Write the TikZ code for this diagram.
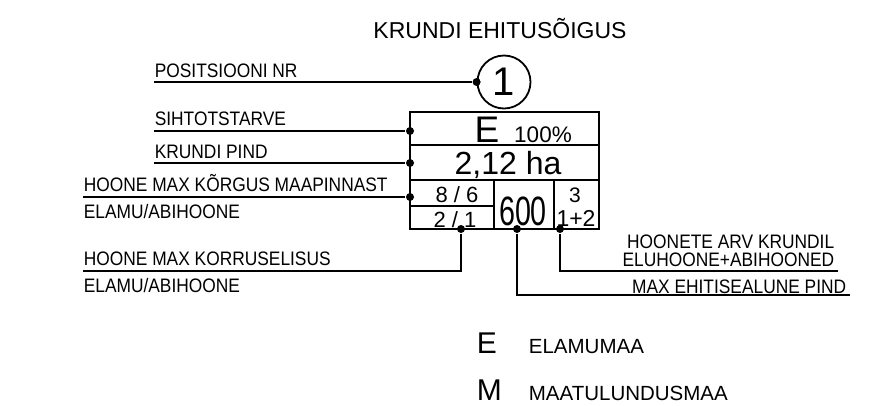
\documentclass[tikz,border=0pt]{standalone}
\usepackage{fontspec}
\setmainfont{Liberation Sans}
\tikzset{
  dot/.style={circle,fill,inner sep=0pt,minimum size=8pt},
  lbl/.style={inner sep=0pt,text height=14pt,text depth=0pt,xscale=0.89,font=\fontsize{19.5}{20}\selectfont},
  cell/.style={inner sep=0pt,anchor=base},
}
\begin{document}
\begin{tikzpicture}[x=1pt,y=-1pt,line width=1.8pt]
			\useasboundingbox (0,0) rectangle (890,405);
			%title
			\node[cell,font=\fontsize{23}{23}\selectfont] (title) at (500,38){KRUNDI EHITUSÕIGUS};
			
			%position circle
			\node[draw,circle,minimum size=53pt,inner sep=0pt,font=\fontsize{40}{40}\selectfont] (pos) at (504,82){1};
			
			%table
			\draw[line width=1.5pt] (410,112) rectangle (599,229);
			\draw[line width=1.5pt] (410,145)--(599,145);
			\draw[line width=1.5pt] (410,180)--(599,180);
			\draw[line width=1.5pt] (410,206)--(494,206);
			\draw[line width=1.5pt] (494,180)--(494,229);
			\draw[line width=1.5pt] (554,180)--(554,229);
			
			\node[cell,font=\fontsize{37}{37}\selectfont] (use) at (487,142){E};
			\node[cell,font=\fontsize{22.5}{22}\selectfont] (pct) at (543,142){100\%};
			\node[cell,font=\fontsize{32}{32}\selectfont] (area) at (508,174){2,12 ha};
			\node[cell,font=\fontsize{22}{22}\selectfont] (hgt) at (457,202){8 / 6};
			\node[cell,font=\fontsize{22}{22}\selectfont] (flr) at (455,227){2 / 1};
			\node[cell,xscale=0.7,font=\fontsize{41}{41}\selectfont] (foot) at (523,225){600};
			\node[cell,font=\fontsize{21}{21}\selectfont] (cnt) at (575,202){3};
			\node[cell,font=\fontsize{23}{23}\selectfont] (cntsum) at (576,226){1+2};
			
			%dots
			\node[dot] (dPos) at (pos.west){};
			\node[dot] (dUse) at (410,131){};
			\node[dot] (dArea) at (410,163){};
			\node[dot] (dHgt) at (410,197){};
			\node[dot] (dFlr) at (461,229){};
			\node[dot] (dFoot) at (517,229){};
			\node[dot] (dCnt) at (560,229){};
			
			%free ends of connectors
			\coordinate (sPos) at (154,82);
			\coordinate (sUse) at (154,131);
			\coordinate (sArea) at (154,163);
			\coordinate (sHgt) at (83,197);
			\coordinate (sFlr) at (83,271);
			\coordinate (eCnt) at (838,271);
			\coordinate (eFoot) at (850,295);
			
			%connectors
			\draw (sPos)--(dPos);
			\draw (sUse)--(dUse);
			\draw (sArea)--(dArea);
			\draw (sHgt)--(dHgt);
			\draw (sFlr)-|(dFlr);
			\draw (eCnt)-|(dCnt);
			\draw (eFoot)-|(dFoot);
			
			%labels
			\node[lbl,anchor=base west] (lPos) at (154,77){POSITSIOONI NR};
			\node[lbl,anchor=base west] (lUse) at (154,125){SIHTOTSTARVE};
			\node[lbl,anchor=base west] (lArea) at (154,158){KRUNDI PIND};
			\node[lbl,anchor=base west] (lHgt) at (83,191){HOONE MAX KÕRGUS MAAPINNAST};
			\node[lbl,anchor=base west] (lHgtSub) at (83,218){ELAMU/ABIHOONE};
			\node[lbl,anchor=base west] (lFlr) at (83,265){HOONE MAX KORRUSELISUS};
			\node[lbl,anchor=base west] (lFlrSub) at (83,292){ELAMU/ABIHOONE};
			\node[lbl,anchor=base east] (lCnt) at (835,248){HOONETE ARV KRUNDIL};
			\node[lbl,anchor=base east] (lCntSub) at (835,266){ELUHOONE+ABIHOONED};
			\node[lbl,anchor=base east] (lFoot) at (847,293){MAX EHITISEALUNE PIND};
			
			%legend
			\node[cell,anchor=base west,font=\fontsize{30}{30}\selectfont] (kE) at (476,353){E};
			\node[cell,anchor=base west,font=\fontsize{20.5}{20}\selectfont] (vE) at (528,353){ELAMUMAA};
			\node[cell,anchor=base west,font=\fontsize{30}{30}\selectfont] (kM) at (476,400){M};
			\node[cell,anchor=base west,font=\fontsize{20.5}{20}\selectfont] (vM) at (528,400){MAATULUNDUSMAA};
		\end{tikzpicture}
\end{document}
